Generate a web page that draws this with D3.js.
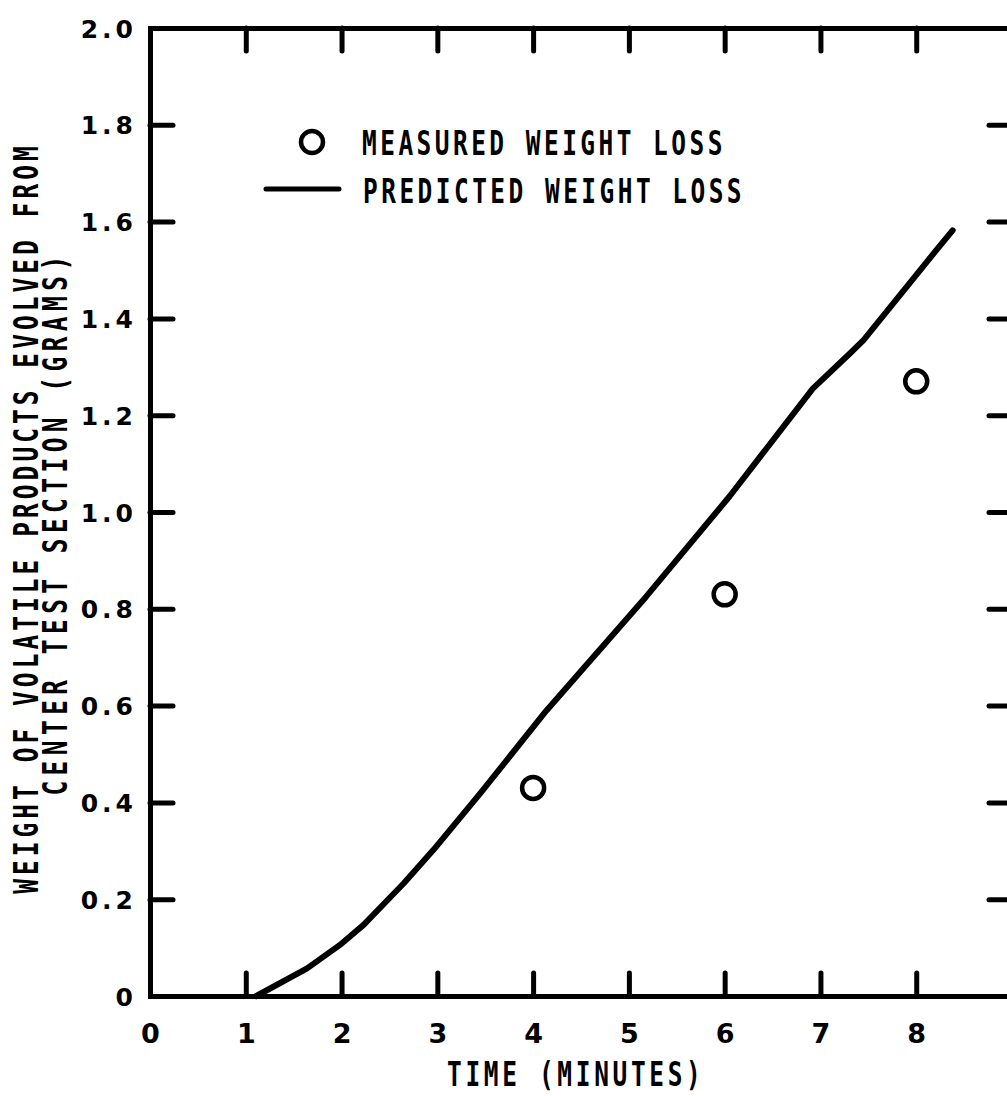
<!DOCTYPE html>
<html>
<head>
<meta charset="utf-8">
<script src="https://cdn.jsdelivr.net/npm/d3@7"></script>
<style>
  html, body { margin: 0; padding: 0; background: #fff; }
  svg { display: block; }
  .lettering { font-family: "DejaVu Sans Mono", monospace; font-weight: bold; font-size: 34px; fill: #000; }
  .ticklabel { font-family: "DejaVu Sans", sans-serif; font-weight: bold; fill: #000; }
</style>
</head>
<body>
<script>
// Measured weight loss (time in minutes, grams)
const measuredTime = [4, 6, 8];
const measuredWeight = [0.43, 0.83, 1.27];

// Predicted weight loss curve
const predictedTime = [1.11, 1.64, 1.98, 2.23, 2.65, 2.96, 3.45, 4.14, 5.18, 6.05, 6.92, 7.31, 7.45, 8.21, 8.38];
const predictedWeight = [0, 0.057, 0.105, 0.147, 0.233, 0.302, 0.419, 0.59, 0.825, 1.032, 1.255, 1.328, 1.355, 1.541, 1.582];

// Axis ticks and labels
const xTicks = [0, 1, 2, 3, 4, 5, 6, 7, 8];
const xTickLabels = ["0", "1", "2", "3", "4", "5", "6", "7", "8"];
const yTicks = [0, 0.2, 0.4, 0.6, 0.8, 1.0, 1.2, 1.4, 1.6, 1.8, 2.0];
const yTickLabels = ["0", "0.2", "0.4", "0.6", "0.8", "1.0", "1.2", "1.4", "1.6", "1.8", "2.0"];

const legendLabels = ["MEASURED WEIGHT LOSS", "PREDICTED WEIGHT LOSS"];
const xTitle = "TIME (MINUTES)";
const yTitleLines = ["WEIGHT OF VOLATILE PRODUCTS EVOLVED FROM", "CENTER TEST SECTION (GRAMS)"];

const W = 1007, H = 1096;
const svg = d3.select("body").append("svg").attr("width", W).attr("height", H);

const x = d3.scaleLinear().domain([0, 9]).range([150, 1012]);
const y = d3.scaleLinear().domain([0, 2]).range([996, 28]);

const STROKE = 5, TICK = 23;

function styleAxis(g) {
  g.select(".domain").attr("stroke", "#000").attr("stroke-width", STROKE).attr("stroke-linecap", "square");
  g.selectAll(".tick line").attr("stroke", "#000").attr("stroke-width", STROKE).attr("stroke-linecap", "round");
}

// Bottom axis with labels
const gx = svg.append("g").attr("transform", `translate(0,${y(0)})`)
  .call(d3.axisBottom(x).tickValues(xTicks).tickFormat((d, i) => xTickLabels[i])
    .tickSizeInner(-TICK).tickSizeOuter(0).tickPadding(0));
styleAxis(gx);
gx.selectAll(".tick").filter(d => d === 0).select("line").remove();
gx.selectAll(".tick text").attr("class", "ticklabel").attr("font-size", 27).attr("font-family", null)
  .attr("y", 47).attr("dy", 0);

// Top axis, ticks only
const gxt = svg.append("g").attr("transform", `translate(0,${y(2)})`)
  .call(d3.axisTop(x).tickValues(xTicks.slice(1)).tickFormat("").tickSizeInner(-TICK).tickSizeOuter(0));
styleAxis(gxt);

// Left axis with labels
const gy = svg.append("g").attr("transform", `translate(${x(0)},0)`)
  .call(d3.axisLeft(y).tickValues(yTicks).tickFormat((d, i) => yTickLabels[i])
    .tickSizeInner(-TICK).tickSizeOuter(0).tickPadding(13));
styleAxis(gy);
gy.selectAll(".tick").filter(d => d === 0 || d === 2).select("line").remove();
gy.selectAll(".tick text").attr("class", "ticklabel").attr("font-size", 25).attr("font-family", null)
  .attr("letter-spacing", 4).attr("dy", "0.36em");

// Right axis, ticks only
const gyr = svg.append("g").attr("transform", `translate(${x(9)},0)`)
  .call(d3.axisRight(y).tickValues(yTicks.slice(1, -1)).tickFormat("").tickSizeInner(-TICK).tickSizeOuter(0));
styleAxis(gyr);

// Predicted curve
const predicted = predictedTime.map((t, i) => [t, predictedWeight[i]]);
svg.append("path")
  .datum(predicted)
  .attr("fill", "none")
  .attr("stroke", "#000")
  .attr("stroke-width", 6)
  .attr("stroke-linejoin", "round")
  .attr("stroke-linecap", "round")
  .attr("d", d3.line().x(d => x(d[0])).y(d => y(d[1])).curve(d3.curveLinear));

// Measured points
const measured = measuredTime.map((t, i) => [t, measuredWeight[i]]);
svg.append("g").selectAll("circle").data(measured).join("circle")
  .attr("cx", d => x(d[0])).attr("cy", d => y(d[1])).attr("r", 11)
  .attr("fill", "#fff").attr("stroke", "#000").attr("stroke-width", 4.5);

// Condensed lettering helper
const SQUEEZE = 0.72;
function lettering(parent, str, tx, ty, rot, anchor, pitch) {
  const ls = pitch / SQUEEZE - 34 * 0.602;
  return parent.append("text").attr("class", "lettering")
    .attr("transform", `translate(${tx},${ty}) rotate(${rot}) scale(${SQUEEZE},1)`)
    .attr("text-anchor", anchor)
    .attr("letter-spacing", ls)
    .text(str);
}

// Legend
const legend = svg.append("g");
legend.append("circle").attr("cx", 312).attr("cy", 142).attr("r", 11)
  .attr("fill", "#fff").attr("stroke", "#000").attr("stroke-width", 4.5);
legend.append("line").attr("x1", 266).attr("x2", 339).attr("y1", 189).attr("y2", 189)
  .attr("stroke", "#000").attr("stroke-width", 5).attr("stroke-linecap", "round");
lettering(legend, legendLabels[0], 362, 155, 0, "start", 18.2);
lettering(legend, legendLabels[1], 363, 203, 0, "start", 18.2);

// Axis titles
lettering(svg, xTitle, 447, 1086, 0, "start", 18.4);
lettering(svg, yTitleLines[0], 38, 518, -90, "middle", 18.8);
lettering(svg, yTitleLines[1], 67, 523, -90, "middle", 20.2);
</script>
</body>
</html>
